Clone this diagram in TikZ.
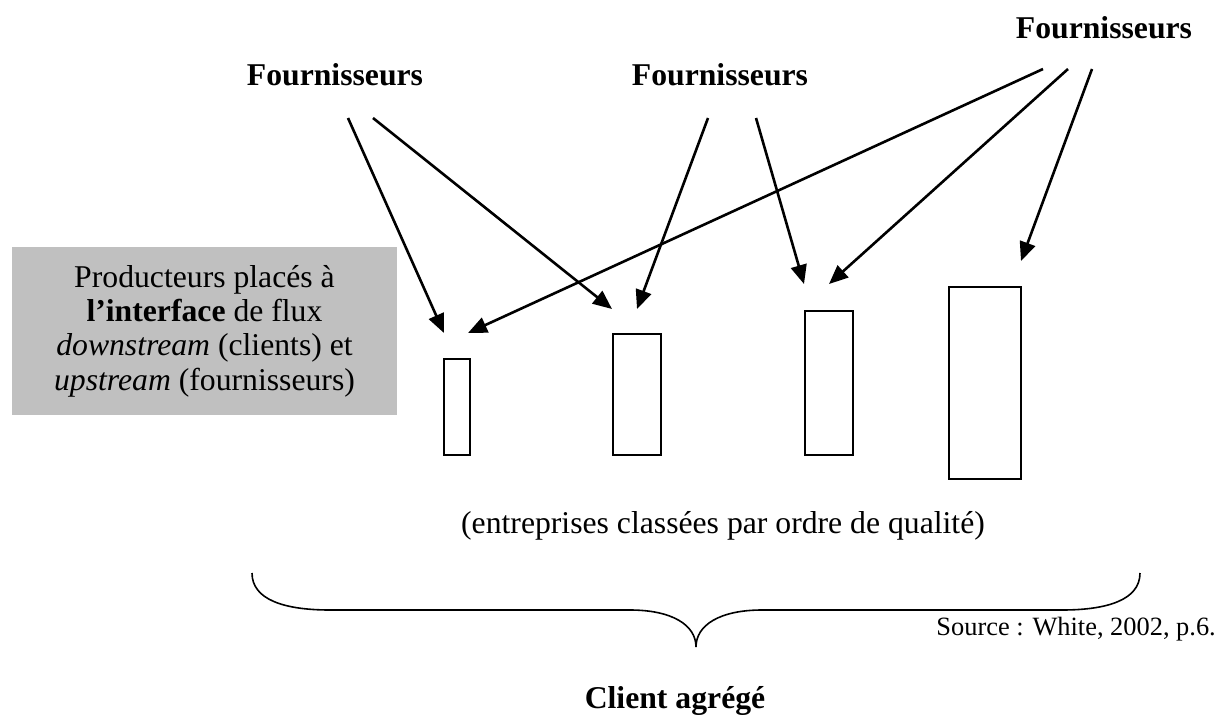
\documentclass[tikz,border=0pt]{standalone}
\usepackage{fontspec}
\setmainfont{Liberation Serif}
\usetikzlibrary{arrows.meta}
\definecolor{boxgray}{HTML}{C0C0C0}
\begin{document}
\begin{tikzpicture}[x=1pt,y=-1pt,
  lbl/.style={font=\fontsize{31.7}{34.3}\selectfont, inner sep=0pt, anchor=base},
  srclbl/.style={font=\fontsize{26.4}{30}\selectfont, inner sep=0pt, anchor=base east},
  firm/.style={draw=black, line width=2pt, fill=white, inner sep=0pt, anchor=north west},
  arr/.style={line width=2.6pt, -{Triangle[length=19pt,width=16pt]}},
  bracestyle/.style={line width=1.6pt}]
\useasboundingbox (0,0) rectangle (1218,715);

% supplier labels
\node[lbl, font=\fontsize{31.7}{34.3}\selectfont\bfseries] (fa) at (335,85) {Fournisseurs};
\node[lbl, font=\fontsize{31.7}{34.3}\selectfont\bfseries] (fb) at (720,85) {Fournisseurs};
\node[lbl, font=\fontsize{31.7}{34.3}\selectfont\bfseries] (fc) at (1104,38) {Fournisseurs};

% grey box
\node[fill=boxgray, minimum width=385pt, minimum height=168pt, inner sep=0pt,
      align=center, font=\fontsize{31.7}{34.3}\selectfont] (prod) at (204.5,331)
  {Producteurs placés à\\ \textbf{l’interface} de flux\\ \textit{downstream} (clients) et\\ \textit{upstream} (fournisseurs)};

% firms
\node[firm, minimum width=26pt, minimum height=96pt] (r1) at (443,358) {};
\node[firm, minimum width=48pt, minimum height=121pt] (r2) at (612,333) {};
\node[firm, minimum width=48pt, minimum height=144pt] (r3) at (804,310) {};
\node[firm, minimum width=72pt, minimum height=192pt] (r4) at (948,286) {};

% arrow start and end points
\coordinate (fa1) at (348,118);
\coordinate (fa2) at (373,118);
\coordinate (fb1) at (708,118);
\coordinate (fb2) at (756,118);
\coordinate (fc1) at (1043,69);
\coordinate (fc2) at (1068,69);
\coordinate (fc3) at (1092,69);
\coordinate (t1a) at (444,333);
\coordinate (t1b) at (468,333);
\coordinate (t2a) at (612,309);
\coordinate (t2b) at (637,309);
\coordinate (t3a) at (804,284);
\coordinate (t3b) at (829,284);
\coordinate (t4) at (1021,261);

\draw[arr] (fa1) -- (t1a);
\draw[arr] (fa2) -- (t2a);
\draw[arr] (fb1) -- (t2b);
\draw[arr] (fb2) -- (t3a);
\draw[arr] (fc1) -- (t1b);
\draw[arr] (fc2) -- (t3b);
\draw[arr] (fc3) -- (t4);

% ranking caption
\node[lbl] (rank) at (723,533) {(entreprises classées par ordre de qualité)};

% brace
\coordinate (bl) at (252,573);
\coordinate (bt) at (696,647);
\coordinate (br) at (1140,573);
\draw[bracestyle] (bl) .. controls (252,600) and (285,610) .. (330,610) -- (630,610)
  .. controls (672,610) and (696,625) .. (bt)
  .. controls (696,625) and (720,610) .. (762,610) -- (1062,610)
  .. controls (1107,610) and (1140,600) .. (br);

\node[srclbl] (src) at (1216,635) {Source : White, 2002, p.6.};
\node[lbl, font=\fontsize{31.7}{34.3}\selectfont\bfseries] (client) at (675,708) {Client agrégé};
\end{tikzpicture}
\end{document}
